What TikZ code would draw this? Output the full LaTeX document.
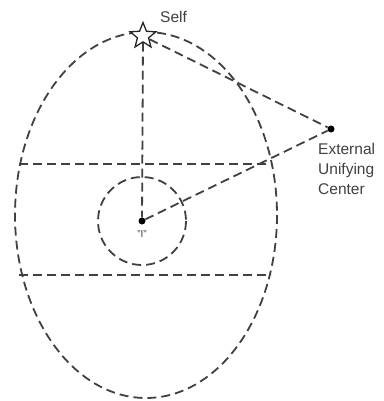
\documentclass[tikz,border=0pt]{standalone}
\usepackage{fontspec}
\setmainfont{Liberation Sans}
\usetikzlibrary{shapes.geometric}
\begin{document}
\begin{tikzpicture}[x=1pt,y=-1pt,
  dline/.style={draw=black!75, line width=1.8pt, dash pattern=on 9pt off 5pt},
  lbl/.style={font=\fontsize{15.5}{20}\selectfont, text=black!75, inner sep=0pt}]
\useasboundingbox (0,0) rectangle (383,401);
\draw[dline] (146,215) ellipse [x radius=131, y radius=183];
\draw[dline] (142,221) circle [radius=44];
\coordinate (tl) at (19,164);
\coordinate (tr) at (271,164);
\coordinate (bl) at (19,275);
\coordinate (br) at (271,275);
\draw[dline] (tl) -- (tr);
\draw[dline] (bl) -- (br);
\node[star, star points=5, star point ratio=2.3, draw=black!85, fill=white, line width=1.3pt, minimum size=27pt, inner sep=0pt] (self) at (143,36) {};
\node[circle, fill=black, inner sep=0pt, minimum size=7pt] (ext) at (331,129) {};
\node[circle, fill=black, inner sep=0pt, minimum size=7pt] (I) at (142,221) {};
\draw[dline] (self) -- (ext);
\draw[dline] (self) -- (I);
\draw[dline] (I) -- (ext);
\node[lbl, anchor=west] (selflbl) at (160,17) {Self};
\node[lbl, anchor=north west, align=left] (extlbl) at (318,143) {External\\Unifying\\Center};
\node[lbl, font=\fontsize{10}{10}\selectfont] (Ilbl) at (142,234) {"I"};
\end{tikzpicture}
\end{document}
